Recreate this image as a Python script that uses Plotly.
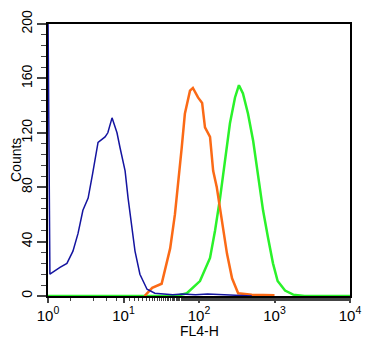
import plotly.graph_objects as go

# Blue histogram (control)
blue_x = [1.0, 1.06, 1.44, 1.78, 2.14, 2.5, 2.9, 3.4, 3.9, 4.6, 5.7, 6.2, 7.05, 8.2, 9.0,
          10.5, 11.5, 13, 14.2, 16.5, 20.5, 26, 32, 45, 60, 90, 130, 200, 300, 500]
blue_y = [210, 16, 21, 24, 33, 46, 63, 72, 90, 113, 117, 120, 131, 120, 109,
          92, 72, 50, 33, 16, 5, 2, 1.5, 1, 1.5, 1, 1.5, 1, 0.5, 0]

# Orange histogram
orange_x = [19, 24, 32, 41.5, 48, 52.7, 59, 65, 76, 83, 97, 110, 120, 140,
            154, 172, 201, 235, 274, 330, 500, 1000]
orange_y = [0, 6, 9, 35, 60, 85, 109, 134, 151, 153, 146, 142, 124, 117,
            92, 80, 55, 31, 13, 2, 1, 0.5]

# Green histogram
green_x = [1, 50, 69, 103, 140, 163, 190, 220, 257, 300, 338, 382, 446, 522, 605,
           705, 820, 955, 1100, 1380, 1770, 2500, 10000]
green_y = [0, 0, 2, 11, 28, 48, 72, 100, 127, 146, 155, 149, 134, 114, 87,
           63, 43, 24, 11, 4, 1, 0, 0]

x_tickvals = [1, 10, 100, 1000, 10000]
x_ticktext = ["10<sup>0</sup>", "10<sup>1</sup>", "10<sup>2</sup>", "10<sup>3</sup>", "10<sup>4</sup>"]
y_tickvals = [0, 40, 80, 120, 160, 200]

fig = go.Figure()
fig.add_trace(go.Scatter(x=green_x, y=green_y, mode="lines",
                         line=dict(color="#2af22a", width=2.5)))
fig.add_trace(go.Scatter(x=orange_x, y=orange_y, mode="lines",
                         line=dict(color="#fb6a16", width=2.5)))
fig.add_trace(go.Scatter(x=blue_x, y=blue_y, mode="lines",
                         line=dict(color="#1414a0", width=1.5)))

font = dict(family="Liberation Sans, Arial, sans-serif", size=14, color="black")

fig.update_layout(
    width=372, height=352,
    margin=dict(l=40, r=30, t=16, b=64),
    paper_bgcolor="white", plot_bgcolor="white",
    showlegend=False,
    font=font,
    xaxis=dict(type="log", range=[0, 4], tickvals=x_tickvals, ticktext=x_ticktext,
               automargin=False,
               showgrid=False, zeroline=False, showline=True, linecolor="black",
               linewidth=1.5, mirror=True, ticks="outside", ticklen=5, tickwidth=1.5,
               minor=dict(ticks="outside", ticklen=3, tickwidth=1, showgrid=False),
               tickfont=dict(size=15)),
    yaxis=dict(range=[0, 200], tickvals=y_tickvals, tickangle=-90,
               automargin=False,
               showgrid=False, zeroline=False, showline=True, linecolor="black",
               linewidth=1.5, mirror=True, ticks="outside", ticklen=9, tickwidth=1.5,
               ticklabelstandoff=0,
               minor=dict(dtick=8, ticks="outside", ticklen=5, tickwidth=1, showgrid=False),
               tickfont=dict(size=14)),
    annotations=[
        dict(text="Counts", xref="paper", yref="paper", x=0, y=0.5, xanchor="center",
             yanchor="middle", xshift=-32, textangle=-90, showarrow=False,
             font=dict(size=14)),
        dict(text="FL4-H", xref="paper", yref="paper", x=0.5, y=0, xanchor="center",
             yanchor="middle", yshift=-35, showarrow=False, font=dict(size=14)),
    ],
)

fig.write_html("out.html")
